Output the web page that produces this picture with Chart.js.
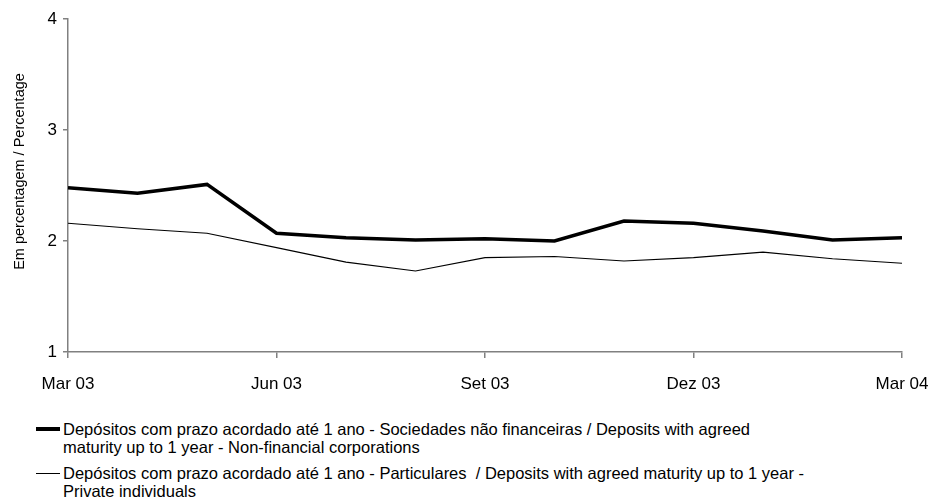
<!DOCTYPE html>
<html>
<head>
<meta charset="utf-8">
<script src="https://cdn.jsdelivr.net/npm/chart.js@4/dist/chart.umd.min.js"></script>
<style>
  body { margin: 0; background: #fff; }
  #wrap { position: relative; width: 931px; height: 498px; }
  #box { position: absolute; left: 0; top: 0; width: 931px; height: 410px; }
  #legend { position: absolute; left: 36px; top: 420px; width: 880px; font-family: 'Liberation Sans', Arial, sans-serif; font-size: 16.5px; line-height: 18px; color: #000; }
  .item { position: relative; padding-left: 27px; margin-bottom: 8px; white-space: pre; }
  .swatch { position: absolute; left: 0; top: 9px; width: 24px; background: #000; }
</style>
</head>
<body>
<div id="wrap">
  <div id="box"><canvas id="chart"></canvas></div>
  <div id="legend"></div>
</div>
<script>
let months = ['Mar 03','Abr 03','Mai 03','Jun 03','Jul 03','Ago 03','Set 03','Out 03','Nov 03','Dez 03','Jan 04','Fev 04','Mar 04']
let sociedades = [2.48, 2.43, 2.51, 2.07, 2.03, 2.01, 2.02, 2.00, 2.18, 2.16, 2.09, 2.01, 2.03]
let particulares = [2.16, 2.11, 2.07, 1.94, 1.81, 1.73, 1.85, 1.86, 1.82, 1.85, 1.90, 1.84, 1.80]
let yTicks = [1, 2, 3, 4]
let yTitulo = 'Em percentagem / Percentage'
let nomeSociedades = 'Depósitos com prazo acordado até 1 ano - Sociedades não financeiras / Deposits with agreed\nmaturity up to 1 year - Non-financial corporations'
let nomeParticulares = 'Depósitos com prazo acordado até 1 ano - Particulares  / Deposits with agreed maturity up to 1 year -\nPrivate individuals'

let font = "'Liberation Sans', Arial, sans-serif"
let axisGrey = '#808080'

// titulo do eixo y, um pouco acima do centro como no original
let tituloY = {
    id: 'tituloY',
    afterDraw(chart) {
        let c = chart.ctx
        c.save()
        c.translate(20, chart.chartArea.top + (chart.chartArea.bottom - chart.chartArea.top) / 2 - 14)
        c.rotate(-Math.PI / 2)
        c.font = '14.5px ' + font
        c.fillStyle = '#000'
        c.textAlign = 'center'
        c.textBaseline = 'middle'
        c.fillText(yTitulo, 0, 0)
        c.restore()
    }
}

let ctx = document.getElementById('chart').getContext('2d')

let grafico = new Chart(ctx, {
    type: 'line',
    data: {
        labels: months,
        datasets: [{
            label: nomeSociedades,
            data: sociedades,
            borderColor: '#000',
            borderWidth: 3.5,
            pointRadius: 0,
            tension: 0,
        }, {
            label: nomeParticulares,
            data: particulares,
            borderColor: '#000',
            borderWidth: 1.1,
            pointRadius: 0,
            tension: 0,
        }]
    },
    options: {
        responsive: true,
        maintainAspectRatio: false,
        animation: false,
        layout: { padding: { top: 19, right: 29, left: 0, bottom: 0 } },
        plugins: { legend: { display: false }, tooltip: { enabled: false } },
        scales: {
            x: {
                offset: false,
                border: { display: true, color: axisGrey, width: 1.5 },
                grid: {
                    drawOnChartArea: false,
                    drawTicks: true,
                    tickLength: 6,
                    color: c => (c.index % 3 === 0 ? axisGrey : 'rgba(0,0,0,0)'),
                    lineWidth: 1.5,
                },
                ticks: {
                    autoSkip: false,
                    maxRotation: 0,
                    padding: 16,
                    color: '#000',
                    font: { family: font, size: 17 },
                    callback: function (v, i) { return i % 3 === 0 ? months[i] : '' },
                },
                afterFit: s => { s.height = 58; s.paddingLeft = 0; s.paddingRight = 0 },
            },
            y: {
                min: 1,
                max: 4,
                border: { display: true, color: axisGrey, width: 1.5 },
                grid: { drawOnChartArea: false, drawTicks: true, tickLength: 5, color: axisGrey, lineWidth: 1.5 },
                ticks: {
                    stepSize: 1,
                    padding: 6,
                    color: '#000',
                    font: { family: font, size: 17 },
                    callback: v => (yTicks.includes(v) ? v : ''),
                },
                afterFit: s => { s.width = 68 },
            }
        }
    },
    plugins: [tituloY]
})

let legenda = document.getElementById('legend')
;[[nomeSociedades, 4], [nomeParticulares, 1]].forEach(function (par) {
    let d = document.createElement('div')
    d.className = 'item'
    d.innerHTML = '<span class="swatch" style="height:' + par[1] + 'px;margin-top:' + (-par[1] / 2) + 'px"></span>'
    d.appendChild(document.createTextNode(par[0]))
    legenda.appendChild(d)
})
</script>
</body>
</html>
